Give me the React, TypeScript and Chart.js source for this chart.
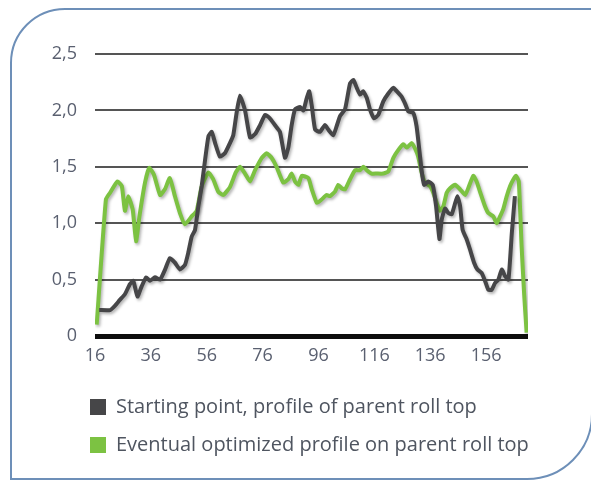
import React, { useEffect, useRef } from "react";
import { Chart, registerables } from "chart.js";

Chart.register(...registerables);

// Y tick labels (comma decimals) and x tick positions
const yTickValues = [0, 0.5, 1, 1.5, 2, 2.5];
const yTickLabels = ["0", "0,5", "1,0", "1,5", "2,0", "2,5"];
const xTickValues = [16, 36, 56, 76, 96, 116, 136, 156];

const seriesNames = [
  "Starting point, profile of parent roll top",
  "Eventual optimized profile on parent roll top",
];

// Starting point profile (dark line)
const startX = [
  17.5, 21.4, 23.2, 24.9, 26.7, 28.5, 29.7, 31.2, 32.7, 34.3, 35.7, 37.5, 39.3, 41.1, 42.8, 44.6,
  46.4, 48.2, 49.4, 50.6, 51.8, 53.0, 54.2, 55.4, 56.6, 57.8, 59.0, 60.7, 62.5, 64.3, 65.5, 66.7,
  67.9, 69.7, 71.5, 73.3, 75.1, 76.9, 78.6, 80.4, 82.2, 84.0, 85.2, 86.4, 87.6, 89.4, 90.6, 91.8,
  92.7, 93.6, 94.8, 96.5, 98.3, 99.5, 101.3, 102.5, 103.7, 105.5, 107.3, 108.5, 109.7, 110.9, 112.0,
  113.3, 114.4, 115.9, 117.4, 119.2, 121.0, 122.8, 124.0, 125.8, 127.0, 128.2, 129.9, 131.1, 132.1,
  132.9, 133.8, 135.3, 136.9, 138.1, 139.3, 140.1, 141.3, 142.5, 143.7, 144.6, 145.7, 146.7, 147.6,
  149.0, 150.2, 151.7, 152.9, 154.4, 155.6, 156.8, 158.0, 159.2, 160.4, 161.6, 162.8, 164.0, 165.2,
  166.3,
];
const startY = [
  0.23, 0.23, 0.27, 0.32, 0.37, 0.46, 0.49, 0.35, 0.44, 0.52, 0.49, 0.52, 0.5, 0.59, 0.69, 0.65,
  0.59, 0.63, 0.74, 0.88, 0.94, 1.15, 1.33, 1.56, 1.77, 1.81, 1.71, 1.59, 1.62, 1.71, 1.78, 1.98,
  2.13, 2.0, 1.76, 1.79, 1.87, 1.96, 1.93, 1.87, 1.81, 1.58, 1.67, 1.87, 2.01, 2.03, 2.0, 2.11,
  2.17, 2.04, 1.83, 1.81, 1.87, 1.83, 1.78, 1.86, 1.95, 2.01, 2.24, 2.27, 2.2, 2.14, 2.17,
  2.11, 2.01, 1.93, 1.96, 2.08, 2.15, 2.2, 2.17, 2.12, 2.06, 1.99, 1.98, 1.86, 1.65,
  1.47, 1.34, 1.37, 1.34, 1.15, 0.86, 1.03, 1.13, 1.09, 1.08, 1.15, 1.24, 1.15, 0.94,
  0.86, 0.77, 0.65, 0.59, 0.56, 0.49, 0.41, 0.41, 0.47, 0.5, 0.59, 0.53, 0.5, 0.91,
  1.24,
];

// Eventual optimized profile (green line)
const optX = [
  16.6, 19.9, 21.4, 24.0, 25.6, 26.7, 27.9, 29.5, 30.7, 31.9, 33.9, 35.4, 37.1, 39.3, 41.0, 42.8,
  44.6, 46.4, 48.2, 50.6, 52.4, 54.2, 56.6, 58.3, 60.1, 61.9, 64.3, 66.4, 67.9, 69.7, 71.5, 73.3,
  75.7, 77.5, 79.2, 81.0, 83.4, 85.2, 86.4, 87.6, 88.8, 90.0, 92.4, 93.6, 95.4, 97.1, 98.9, 100.1,
  101.9, 103.1, 104.3, 105.5, 107.3, 109.1, 110.9, 112.1, 113.3, 115.0, 116.8, 119.2, 121.0, 122.8,
  124.6, 126.4, 127.6, 129.4, 130.6, 131.7, 132.9, 134.1, 135.9, 137.1, 138.3, 139.5, 140.7, 141.9,
  143.1, 144.9, 146.7, 148.5, 149.6, 151.4, 152.6, 153.8, 155.6, 156.8, 158.6, 159.8, 161.0, 162.2,
  163.4, 164.6, 165.8, 166.7, 167.7, 168.7, 169.6, 170.5,
];
const optY = [
  0.1, 1.21, 1.27, 1.37, 1.33, 1.11, 1.24, 1.12, 0.84, 1.06, 1.36, 1.49, 1.43, 1.25, 1.3, 1.4,
  1.24, 1.09, 0.99, 1.06, 1.11, 1.33, 1.45, 1.39, 1.28, 1.25, 1.32, 1.45, 1.5, 1.44, 1.37, 1.47,
  1.58, 1.62, 1.58, 1.5, 1.36, 1.39, 1.44, 1.37, 1.34, 1.42, 1.4, 1.3, 1.18, 1.21, 1.25, 1.24,
  1.28, 1.34, 1.31, 1.3, 1.39, 1.47, 1.47, 1.5, 1.47, 1.44, 1.44, 1.44, 1.46, 1.58,
  1.65, 1.7, 1.67, 1.71, 1.66, 1.59, 1.45, 1.36, 1.33, 1.27, 1.18, 1.11, 1.15, 1.27,
  1.31, 1.34, 1.3, 1.25, 1.31, 1.42, 1.37, 1.28, 1.15, 1.09, 1.06, 1.0, 1.06, 1.13,
  1.24, 1.33, 1.39, 1.42, 1.37, 0.8, 0.38, 0.03,
];

const DARK = "#464648";
const GREEN = "#7cc242";
const FONT = "'Open Sans', sans-serif";

const shadowPlugin = {
  id: "lineShadow",
  beforeDatasetsDraw(chart: any) {
    const ctx = chart.ctx;
    ctx.save();
    ctx.shadowColor = "rgba(0,0,0,0.3)";
    ctx.shadowBlur = 3;
    ctx.shadowOffsetX = 1.5;
    ctx.shadowOffsetY = 2;
  },
  afterDatasetsDraw(chart: any) {
    chart.ctx.restore();
  },
};

// shift the legend block so its squares line up under the plot, as in the original
const legendShift = {
  id: "legendShift",
  afterLayout(chart: any) {
    if (chart.legend) chart.legend.left = 72;
  },
};

export default function App() {
  const ref = useRef<HTMLCanvasElement | null>(null);

  useEffect(() => {
    if (!ref.current) return;
    const chart = new Chart(ref.current, {
      type: "line",
      data: {
        datasets: [
          {
            label: seriesNames[0],
            data: startX.map((x, i) => ({ x, y: startY[i] })),
            borderColor: DARK,
            backgroundColor: DARK,
            borderWidth: 4,
            pointRadius: 0,
            tension: 0.15,
          },
          {
            label: seriesNames[1],
            data: optX.map((x, i) => ({ x, y: optY[i] })),
            borderColor: GREEN,
            backgroundColor: GREEN,
            borderWidth: 4,
            pointRadius: 0,
            tension: 0.15,
          },
        ],
      },
      options: {
        animation: false,
        responsive: false,
        layout: { padding: { left: 30, right: 63, top: 54, bottom: 15 } },
        plugins: {
          tooltip: { enabled: false },
          legend: {
            position: "bottom",
            align: "start",
            labels: {
              boxWidth: 16,
              boxHeight: 16,
              padding: 18,
              color: "#4f5560",
              font: { family: FONT, size: 20 },
              generateLabels: (c: any) =>
                (Chart.defaults.plugins.legend.labels as any)
                  .generateLabels(c)
                  .map((l: any) => ({ ...l, lineWidth: 0 })),
            },
          },
        },
        scales: {
          x: {
            type: "linear",
            min: 16,
            max: 171,
            afterBuildTicks: (scale: any) => {
              scale.ticks = xTickValues.map((v) => ({ value: v }));
            },
            afterFit: (scale: any) => {
              scale.height = 43;
            },
            grid: { display: false, drawTicks: false },
            border: { display: false },
            ticks: {
              padding: 9,
              maxRotation: 0,
              autoSkip: false,
              color: "#5a6070",
              font: { family: FONT, size: 18 },
              callback: (v: any) => String(v),
            },
          },
          y: {
            min: 0,
            max: 2.5,
            afterBuildTicks: (scale: any) => {
              scale.ticks = yTickValues.map((v) => ({ value: v }));
            },
            afterFit: (scale: any) => {
              scale.width = 65;
            },
            grid: {
              drawTicks: false,
              lineWidth: (ctx: any) => (ctx.tick && ctx.tick.value === 0 ? 5 : 2),
              color: (ctx: any) => (ctx.tick && ctx.tick.value === 0 ? "#0d0d0d" : "#555555"),
            },
            border: { display: false },
            ticks: {
              padding: 18,
              color: "#5a6070",
              font: { family: FONT, size: 18 },
              callback: (v: any) => {
                const i = yTickValues.indexOf(Number(v));
                return i >= 0 ? yTickLabels[i] : "";
              },
            },
          },
        },
      },
      plugins: [shadowPlugin, legendShift],
    } as any);
    return () => chart.destroy();
  }, []);

  return (
    <div
      style={{
        position: "absolute",
        left: 0,
        top: 0,
        width: 591,
        height: 480,
        overflow: "hidden",
        background: "#ffffff",
      }}
    >
      <div
        style={{
          position: "absolute",
          left: 10,
          top: 8,
          width: 583,
          height: 472,
          boxSizing: "border-box",
          border: "2px solid #6d8fb8",
          borderTopLeftRadius: 55,
          borderBottomRightRadius: 66,
        }}
      />
      <canvas
        ref={ref}
        width={591}
        height={480}
        style={{ position: "absolute", left: 0, top: 0, width: 591, height: 480 }}
      />
    </div>
  );
}
